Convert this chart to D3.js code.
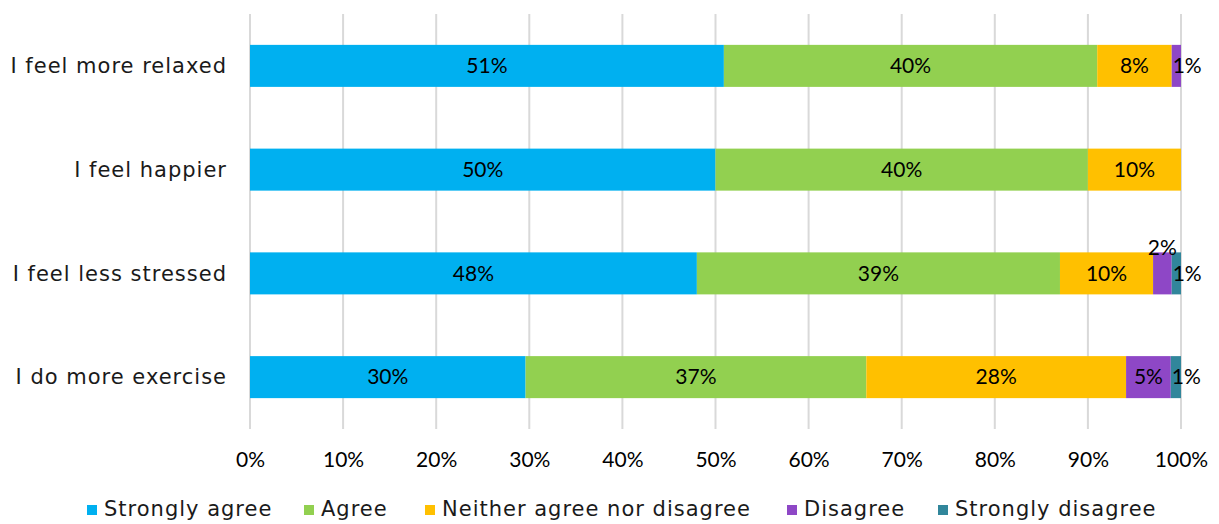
<!DOCTYPE html>
<html><head><meta charset="utf-8">
<script src="https://cdn.jsdelivr.net/npm/d3@7"></script>
<style>body{margin:0;background:#fff}svg{display:block;font-family:"Lato",sans-serif}</style>
</head><body><svg id="c" width="1219" height="524"></svg>
<script>
const categories = ["I feel more relaxed","I feel happier","I feel less stressed","I do more exercise"];
const seriesNames = ["Strongly agree","Agree","Neither agree nor disagree","Disagree","Strongly disagree"];
const stronglyAgree = [50.9, 50.0, 48.0, 29.6];
const agree = [40.1, 40.0, 39.0, 36.6];
const neither = [8.0, 10.0, 10.0, 27.9];
const disagree = [1.0, 0, 2.0, 4.8];
const stronglyDisagree = [0, 0, 1.0, 1.1];
const tickValues = [0,10,20,30,40,50,60,70,80,90,100];
const colors = ["#00b0f0","#92d050","#ffc000","#8e47c6","#31869b"];

const svg = d3.select("#c");
const font = 21;
const wordFont = "'DejaVu Sans', sans-serif";
const x = d3.scaleLinear().domain([0,100]).range([250,1181]);
const y = d3.scaleBand().domain(categories).range([14,429]).paddingInner(0.595).paddingOuter(0.2975);

// gridlines
svg.append("g").selectAll("line").data(tickValues).join("line")
  .attr("x1",d=>x(d)).attr("x2",d=>x(d)).attr("y1",14).attr("y2",429)
  .attr("stroke","#d9d9d9").attr("stroke-width",2);

const allSeries = [stronglyAgree, agree, neither, disagree, stronglyDisagree];
const rows = categories.map((c,i)=>{const o={cat:c}; seriesNames.forEach((s,j)=>o[s]=allSeries[j][i]); return o;});
const stack = d3.stack().keys(seriesNames)(rows);

const g = svg.append("g");
stack.forEach((layer,j)=>{
  layer.forEach((d,i)=>{
    const v = d[1]-d[0];
    if (v<=0) return;
    g.append("rect").attr("x",x(d[0])).attr("width",x(d[1])-x(d[0]))
      .attr("y",y(categories[i])).attr("height",y.bandwidth()).attr("fill",colors[j]);
  });
});
// labels
stack.forEach((layer,j)=>{
  layer.forEach((d,i)=>{
    const v = d[1]-d[0];
    if (v<=0) return;
    const w = x(d[1])-x(d[0]);
    const cy = y(categories[i])+y.bandwidth()/2;
    let tx = (x(d[0])+x(d[1]))/2, anchor="middle", ty = cy;
    const nextSmall = j<seriesNames.length-1 && stack[j+1][i][1]-stack[j+1][i][0] > 0;
    if (w < 25) {
      if (nextSmall) { ty = cy - 26; }
      else { tx = x(d[0])+1; anchor="start"; }
    }
    g.append("text").attr("x",tx).attr("y",ty).attr("dy","0.35em").attr("text-anchor",anchor)
      .attr("font-size",font).attr("fill","#000").text(Math.round(v)+"%");
  });
});

// category axis labels
svg.append("g").selectAll("text").data(categories).join("text")
  .attr("x",227).attr("y",d=>y(d)+y.bandwidth()/2).attr("dy","0.35em").attr("text-anchor","end")
  .attr("font-family",wordFont).attr("letter-spacing",1)
  .attr("font-size",font).attr("fill","#1a1a1a").text(d=>d);

// x axis
const xa = svg.append("g").attr("transform","translate(0,447)")
  .call(d3.axisBottom(x).tickValues(tickValues).tickFormat(d=>d+"%").tickSize(0).tickPadding(5));
xa.select(".domain").remove();
xa.selectAll("text").attr("font-size",font).attr("fill","#000").attr("font-family","Lato");

// legend
const legendX = [87,304,425,787,938];
const lg = svg.append("g");
seriesNames.forEach((s,j)=>{
  lg.append("rect").attr("x",legendX[j]).attr("y",505).attr("width",10).attr("height",10).attr("fill",colors[j]);
  lg.append("text").attr("x",legendX[j]+17).attr("y",509).attr("dy","0.35em")
    .attr("font-family",wordFont).attr("letter-spacing",1)
    .attr("font-size",font).attr("fill","#1a1a1a").text(s);
});
</script></body></html>
